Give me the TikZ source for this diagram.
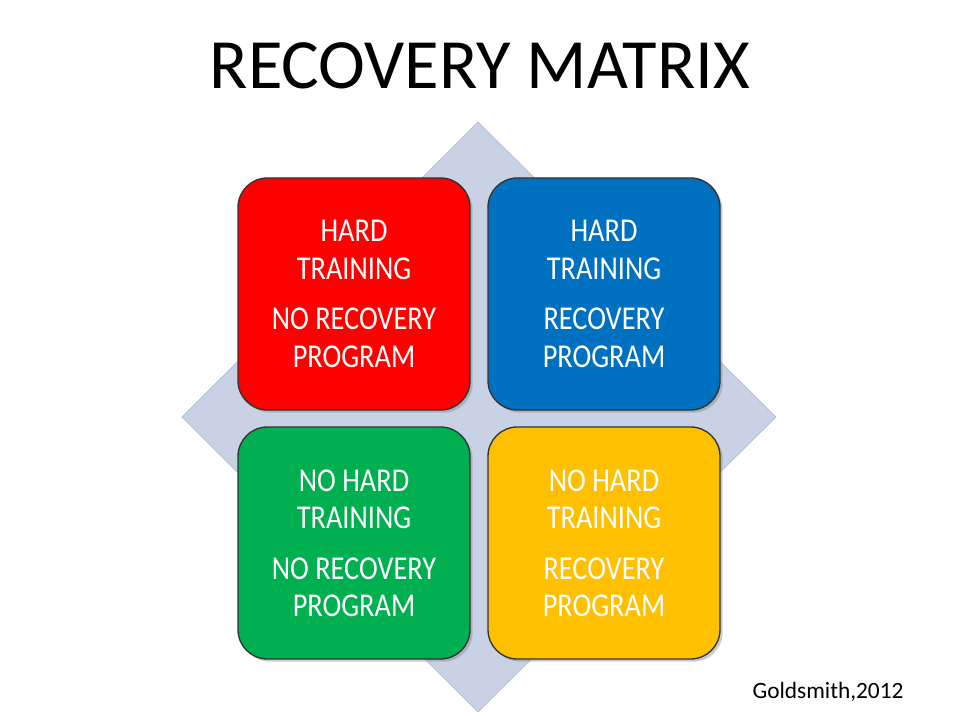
\documentclass[tikz,border=0pt]{standalone}
\usepackage{fontspec}
\setmainfont{Carlito}
\newfontfamily\condfont[FakeStretch=0.85]{Carlito}
\usetikzlibrary{shadows}
\definecolor{dia}{RGB}{200,210,228}
\definecolor{diab}{RGB}{165,183,212}
\definecolor{cred}{RGB}{255,0,0}
\definecolor{cblue}{RGB}{0,112,192}
\definecolor{cgreen}{RGB}{0,176,80}
\definecolor{cyel}{RGB}{255,192,0}
\begin{document}
\begin{tikzpicture}[x=0.75pt,y=-0.75pt,
  box/.style={draw=black!80,line width=1pt,rounded corners=22pt,minimum width=232*0.75pt,minimum height=232*0.75pt,
    drop shadow={shadow xshift=2pt,shadow yshift=-2pt,opacity=0.4},text=white,align=center,
    font=\condfont\fontsize{25}{28}\selectfont}]
\useasboundingbox (0,0) rectangle (960,720);
\fill[white] (0,0) rectangle (960,720);
\node (title) at (480,66) {\fontsize{53}{60}\selectfont RECOVERY MATRIX};
\draw[fill=dia,draw=diab] (478,122) coordinate (dt) -- (776,417) coordinate (dr) -- (478,712) coordinate (db) -- (182,417) coordinate (dl) -- cycle;
\node[box,fill=cred] (a) at (354,294) {HARD\\TRAINING\\[10pt]NO RECOVERY\\PROGRAM};
\node[box,fill=cblue] (b) at (604,294) {HARD\\TRAINING\\[10pt]RECOVERY\\PROGRAM};
\node[box,fill=cgreen] (c) at (354,543) {NO HARD\\TRAINING\\[10pt]NO RECOVERY\\PROGRAM};
\node[box,fill=cyel] (d) at (604,543) {NO HARD\\TRAINING\\[10pt]RECOVERY\\PROGRAM};
\node (cite) at (828,692) {\fontsize{17.5}{20}\selectfont Goldsmith,2012};
\end{tikzpicture}
\end{document}
